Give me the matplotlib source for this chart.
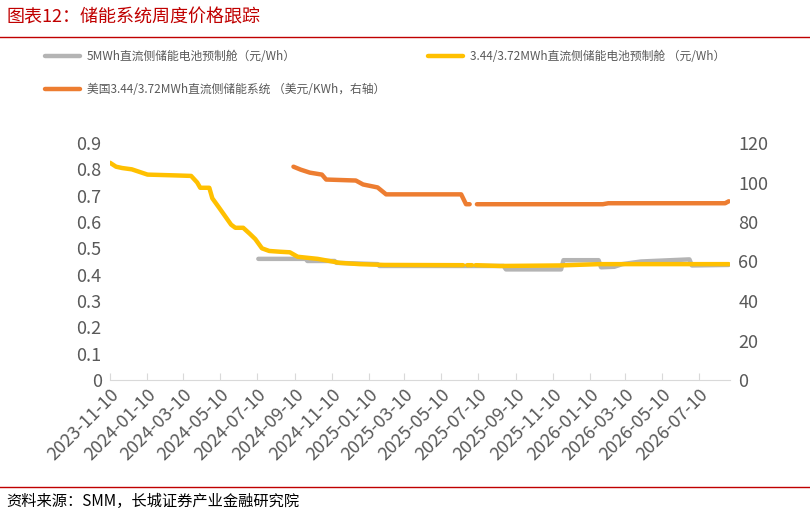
import matplotlib
matplotlib.use("Agg")
import matplotlib.pyplot as plt
import numpy as np
import pandas as pd

plt.rcParams['font.family'] = ['Noto Sans CJK SC', 'DejaVu Sans']

y_dates = ["2023-11-10","2023-11-20","2023-11-30","2023-12-16","2024-01-11","2024-02-25","2024-03-23",
           "2024-04-02","2024-04-07","2024-04-22","2024-04-27","2024-05-08","2024-05-28","2024-06-04",
           "2024-06-17","2024-06-28","2024-07-07","2024-07-18","2024-07-30","2024-08-17","2024-09-02",
           "2024-09-15","2024-10-18","2024-11-23","2024-12-26","2025-02-05","2025-06-15","2025-06-18",
           "2025-06-22","2025-06-30","2025-07-03","2025-07-06","2025-08-15","2025-11-22","2026-01-26","2026-08-28"]
y_vals = [0.825,0.81,0.805,0.80,0.78,0.777,0.775,0.75,0.73,0.73,0.69,0.655,0.59,0.578,0.578,0.555,0.535,
          0.50,0.49,0.487,0.485,0.468,0.46,0.445,0.44,0.437,0.436,np.nan,0.436,0.436,np.nan,0.436,
          0.433,0.435,0.44,0.44]

g_dates = ["2024-07-12","2024-09-28","2024-10-01","2024-11-15","2024-11-18","2025-01-25","2025-01-28",
           "2025-08-21","2025-08-25","2025-11-24","2025-11-28","2026-01-25","2026-01-29","2026-02-20",
           "2026-03-05","2026-04-05","2026-06-24","2026-06-28","2026-08-28"]
g_vals = [0.46,0.46,0.452,0.452,0.445,0.44,0.433,0.433,0.42,0.42,0.455,0.455,0.428,0.43,0.44,0.45,
          0.458,0.435,0.437]

o_dates = ["2024-09-08","2024-09-20","2024-10-05","2024-10-25","2024-11-01","2024-12-20","2025-01-01",
           "2025-01-25","2025-02-08","2025-06-12","2025-06-20","2025-06-26","2025-06-28","2025-07-01",
           "2025-07-05","2025-07-08","2026-02-01","2026-02-10","2026-08-22","2026-08-28"]
o_vals = [108,106.5,105,104,101.5,101,99,97.5,94,94,89,89,np.nan,89,np.nan,89,89,89.5,89.5,90.5]

tick_dates = pd.date_range("2023-11-01", "2026-07-01", freq="2MS") + pd.Timedelta(days=9)
labels = [d.strftime("%Y-%m-%d") for d in tick_dates]

fig = plt.figure(figsize=(8.1, 5.15), dpi=100)
ax = fig.add_axes([110/810, 1-380/515, 620/810, 237/515])
ax2 = ax.twinx()

ax.plot(pd.to_datetime(g_dates), g_vals, color="#B4B4B4", lw=3.2, solid_capstyle='round', zorder=2)
ax.plot(pd.to_datetime(y_dates), y_vals, color="#FFC000", lw=3.2, solid_capstyle='round', zorder=3)
ax2.plot(pd.to_datetime(o_dates), o_vals, color="#ED7D31", lw=3.2, solid_capstyle='round')

ax.set_ylim(0, 0.9); ax.set_yticks(np.arange(0, 0.91, 0.1))
ax.set_yticklabels([f"{v:g}" for v in np.round(np.arange(0, 0.91, 0.1), 1)])
ax2.set_ylim(0, 120); ax2.set_yticks(range(0, 121, 20))
ax.set_xlim(pd.Timestamp("2023-11-10"), pd.Timestamp("2026-08-30"))
ax.set_xticks(tick_dates); ax.set_xticklabels(labels, rotation=45, ha='right', rotation_mode='anchor')
for a in (ax, ax2):
    for s in a.spines.values(): s.set_visible(False)
    a.tick_params(length=0, labelsize=13, colors="#595959", pad=6)
ax.tick_params(axis='x', labelsize=13, pad=4)
ax.spines['bottom'].set_visible(True); ax.spines['bottom'].set_color("#D9D9D9")
ax.tick_params(axis='x', length=5, color="#D9D9D9", direction='in')

def leg(x0, y0, color, text):
    fig.add_artist(plt.Line2D([x0/810, (x0+35)/810], [1-y0/515]*2, color=color, lw=3.2, solid_capstyle='round'))
    fig.text((x0+42)/810, 1-y0/515, text, fontsize=8.5, color="#595959", va='center')
leg(45, 56, "#B4B4B4", "5MWh直流侧储能电池预制舱（元/Wh）")
leg(428, 56, "#FFC000", "3.44/3.72MWh直流侧储能电池预制舱 （元/Wh）")
leg(45, 89, "#ED7D31", "美国3.44/3.72MWh直流侧储能系统 （美元/KWh，右轴）")

fig.text(6/810, 1-17/515, "图表12：储能系统周度价格跟踪", color="#C00000", fontsize=13, style='italic', va='center')
fig.add_artist(plt.Line2D([0, 1], [1-37/515]*2, color="#C00000", lw=1))
fig.add_artist(plt.Line2D([0, 1], [1-487/515]*2, color="#C00000", lw=1))
fig.text(6/810, 1-501/515, "资料来源：SMM，长城证券产业金融研究院", fontsize=11, style='italic', va='center', color="#000000")

fig.savefig("out.png", dpi=100)
